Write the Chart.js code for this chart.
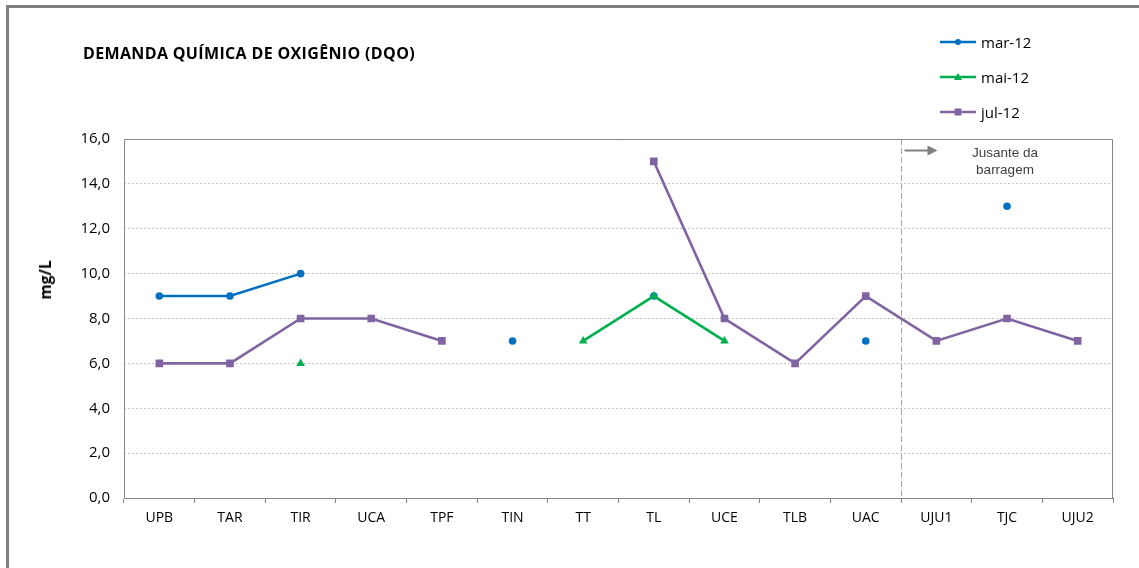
<!DOCTYPE html>
<html lang="pt">
<head>
<meta charset="utf-8">
<title>Demanda Química de Oxigênio (DQO)</title>
<script src="https://cdn.jsdelivr.net/npm/chart.js@4.4.1/dist/chart.umd.min.js"></script>
<style>
  html, body { margin: 0; padding: 0; background: #fff; }
  body { width: 1139px; height: 568px; position: relative; overflow: hidden; font-family: "Open Sans", "Noto Sans", sans-serif; }
  #frame { position: absolute; left: 6px; top: 5px; width: 1140px; height: 600px; border-top: 3px solid #808080; border-left: 3px solid #808080; box-sizing: border-box; }
  canvas { position: absolute; left: 0; top: 0; }
  #title { position: absolute; left: 83px; top: 42px; font-weight: 700; font-size: 16px; color: #000; white-space: nowrap; letter-spacing: 0.35px; }
  #ylabel { position: absolute; left: 45px; top: 280px; transform: translate(-50%, -50%) rotate(-90deg); font-weight: 700; font-size: 15.5px; color: #000; white-space: nowrap; }
  #legend { position: absolute; left: 940px; top: 30px; }
  .leg { position: absolute; left: 0; height: 24px; display: flex; align-items: center; white-space: nowrap; font-size: 15px; color: #000; }
  .leg svg { margin-right: 5px; }
  #note { position: absolute; left: 1005px; top: 144px; transform: translateX(-50%); text-align: center; font-family: "Liberation Sans", Arial, sans-serif; font-size: 13.5px; line-height: 17px; color: #404040; white-space: nowrap; }
</style>
</head>
<body>
<div id="frame"></div>
<canvas id="chart" width="1139" height="568"></canvas>
<div id="title">DEMANDA QUÍMICA DE OXIGÊNIO (DQO)</div>
<div id="ylabel">mg/L</div>
<div id="legend"></div>
<div id="note">Jusante da<br>barragem</div>
<script>
// Sampling stations along the river
const stations = ['UPB', 'TAR', 'TIR', 'UCA', 'TPF', 'TIN', 'TT', 'TL', 'UCE', 'TLB', 'UAC', 'UJU1', 'TJC', 'UJU2'];

// DQO (mg/L) per campaign; null = not sampled
const mar12 = [9, 9, 10, null, null, 7, null, 9, null, null, 7, null, 13, null];
const mai12 = [null, null, 6, null, null, null, 7, 9, 7, null, null, null, null, null];
const jul12 = [6, 6, 8, 8, 7, null, null, 15, 8, 6, 9, 7, 8, 7];

const seriesNames = ['mar-12', 'mai-12', 'jul-12'];
const seriesColors = ['#0070C0', '#00B050', '#8064A2'];
const seriesMarkers = ['circle', 'triangle', 'rect'];
const markerRadius = [3.8, 5, 5.4];

// Boundary between UAC and UJU1: downstream of the dam
const damBoundary = 10.5;
const yTicks = { min: 0, max: 16, step: 2 };

const fmt = v => v.toFixed(1).replace('.', ',');

// Plot frame, dam divider and arrow
const decorations = {
  id: 'decorations',
  beforeDatasetsDraw(chart) {
    const { ctx, chartArea: a, scales } = chart;
    ctx.save();
    // dashed divider
    const xd = Math.round(scales.x.getPixelForValue(damBoundary)) + 0.5;
    ctx.strokeStyle = '#a6a6a6';
    ctx.lineWidth = 1;
    ctx.setLineDash([6, 3]);
    ctx.beginPath();
    ctx.moveTo(xd, a.top);
    ctx.lineTo(xd, a.bottom);
    ctx.stroke();
    ctx.setLineDash([]);
    // frame (left, top, right)
    ctx.strokeStyle = '#868686';
    ctx.beginPath();
    ctx.moveTo(a.left + 0.5, a.bottom);
    ctx.lineTo(a.left + 0.5, a.top + 0.5);
    ctx.lineTo(a.right - 0.5, a.top + 0.5);
    ctx.lineTo(a.right - 0.5, a.bottom);
    ctx.stroke();
    // arrow pointing downstream
    const ya = Math.round(scales.y.getPixelForValue(15.5)) + 0.5;
    const x0 = xd + 3, x1 = xd + 36;
    ctx.strokeStyle = '#808080';
    ctx.fillStyle = '#808080';
    ctx.lineWidth = 2;
    ctx.beginPath();
    ctx.moveTo(x0, ya);
    ctx.lineTo(x1 - 9, ya);
    ctx.stroke();
    ctx.beginPath();
    ctx.moveTo(x1, ya);
    ctx.lineTo(x1 - 10, ya - 5);
    ctx.lineTo(x1 - 10, ya + 5);
    ctx.closePath();
    ctx.fill();
    ctx.restore();
  }
};

const datasets = [mar12, mai12, jul12].map((data, i) => ({
  label: seriesNames[i],
  data,
  borderColor: seriesColors[i],
  backgroundColor: seriesColors[i],
  borderWidth: 2.6,
  pointStyle: seriesMarkers[i],
  pointRadius: markerRadius[i],
  pointBorderWidth: 0,
  pointHoverRadius: markerRadius[i],
  spanGaps: false,
  tension: 0,
  order: 3 - i
}));

new Chart(document.getElementById('chart'), {
  type: 'line',
  data: { labels: stations, datasets },
  plugins: [decorations],
  options: {
    responsive: false,
    animation: false,
    devicePixelRatio: 1,
    layout: { padding: { left: 0, right: 26, top: 139, bottom: 0 } },
    plugins: { legend: { display: false }, title: { display: false }, tooltip: { enabled: false } },
    scales: {
      x: {
        type: 'category',
        offset: true,
        afterFit: s => { s.height = 70; },
        grid: { display: true, drawOnChartArea: false, drawTicks: true, tickLength: 5, offset: true, color: '#868686' },
        border: { display: true, color: '#868686', width: 1 },
        ticks: { color: '#000', padding: 7, font: { family: '"Open Sans", "Noto Sans", sans-serif', size: 14 }, maxRotation: 0, autoSkip: false }
      },
      y: {
        min: yTicks.min,
        max: yTicks.max,
        afterFit: s => { s.width = 124; },
        grid: {
          drawTicks: false,
          color: c => (c.tick && (c.tick.value === yTicks.min || c.tick.value === yTicks.max)) ? 'rgba(0,0,0,0)' : '#c4c4c4'
        },
        border: { display: false, dash: [2, 2] },
        ticks: {
          stepSize: yTicks.step,
          padding: 14,
          color: '#000',
          font: { family: '"Open Sans", "Noto Sans", sans-serif', size: 15 },
          callback: v => fmt(v)
        }
      }
    }
  }
});

// Legend built from the series definitions
const legend = document.getElementById('legend');
seriesNames.forEach((name, i) => {
  const c = seriesColors[i];
  let marker;
  if (seriesMarkers[i] === 'circle') marker = `<circle cx="18" cy="6" r="3" fill="${c}"/>`;
  else if (seriesMarkers[i] === 'triangle') marker = `<polygon points="18,2 22,9 14,9" fill="${c}"/>`;
  else marker = `<rect x="14.5" y="2.5" width="7" height="7" fill="${c}"/>`;
  const row = document.createElement('div');
  row.className = 'leg';
  row.style.top = (i * 35) + 'px';
  row.innerHTML = `<svg width="36" height="12"><line x1="0" y1="6" x2="36" y2="6" stroke="${c}" stroke-width="2.5"/>${marker}</svg><span>${name}</span>`;
  legend.appendChild(row);
});
</script>
</body>
</html>
